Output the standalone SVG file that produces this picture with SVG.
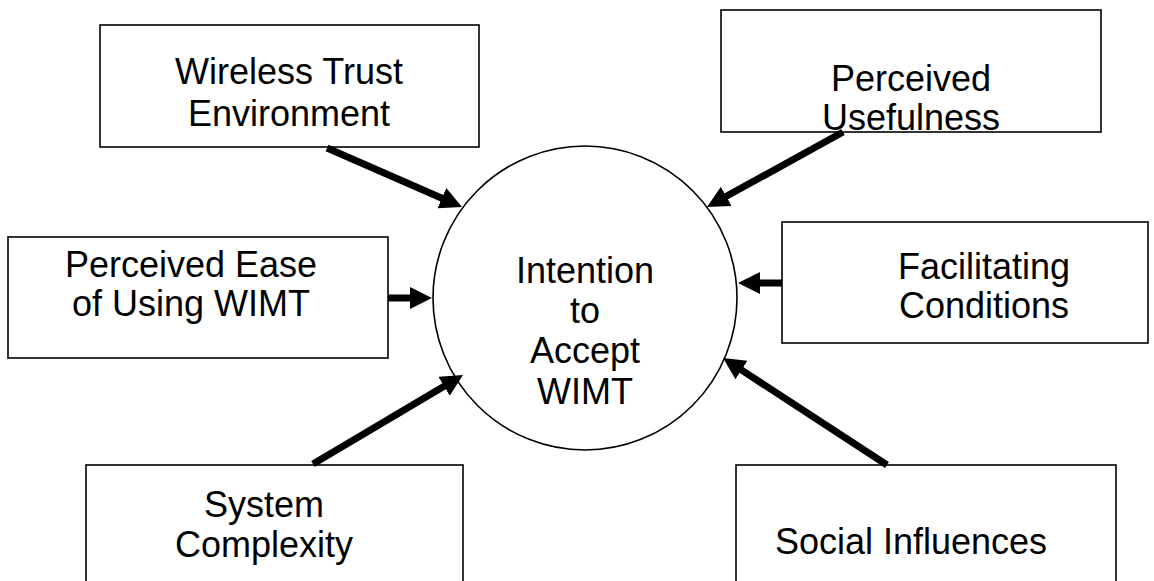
<svg xmlns="http://www.w3.org/2000/svg" width="1154" height="581" viewBox="0 0 1154 581">
<style>
.box{fill:#fff;stroke:#000;stroke-width:1.6}
.circ{fill:#fff;stroke:#000;stroke-width:1.6}
.lbl{font-family:"Liberation Sans",Arial,sans-serif;font-size:36px;fill:#000;text-anchor:middle}
.conn{stroke:#000;stroke-width:7;fill:none;marker-end:url(#ah)}
</style>
<defs>
<marker id="ah" markerUnits="userSpaceOnUse" markerWidth="24" markerHeight="24" refX="2" refY="11" orient="auto">
<path d="M0,0 L22,11 L0,22 Z" fill="#000"/>
</marker>
</defs>
<rect width="1154" height="581" fill="#fff"/>
<g id="node-intention">
<circle class="circ" cx="585" cy="298" r="152"/>
<text class="lbl" x="585" y="283">Intention</text>
<text class="lbl" x="585" y="323">to</text>
<text class="lbl" x="585" y="363">Accept</text>
<text class="lbl" x="585" y="404">WIMT</text>
</g>
<g id="node-wireless">
<rect class="box" x="100" y="25" width="379" height="122"/>
<text class="lbl" x="289" y="84">Wireless Trust</text>
<text class="lbl" x="289" y="126">Environment</text>
</g>
<g id="node-usefulness">
<rect class="box" x="721" y="10" width="380" height="122"/>
<text class="lbl" x="911" y="91">Perceived</text>
<text class="lbl" x="911" y="130">Usefulness</text>
</g>
<g id="node-ease">
<rect class="box" x="8" y="237" width="380" height="121"/>
<text class="lbl" x="191" y="277">Perceived Ease</text>
<text class="lbl" x="191" y="316">of Using WIMT</text>
</g>
<g id="node-facilitating">
<rect class="box" x="782" y="222" width="366" height="121"/>
<text class="lbl" x="984" y="279">Facilitating</text>
<text class="lbl" x="984" y="318">Conditions</text>
</g>
<g id="node-complexity">
<rect class="box" x="86" y="465" width="377" height="140"/>
<text class="lbl" x="264" y="517">System</text>
<text class="lbl" x="264" y="557">Complexity</text>
</g>
<g id="node-social">
<rect class="box" x="736" y="465" width="380" height="140"/>
<text class="lbl" x="911" y="554">Social Influences</text>
</g>
<g id="connectors">
<line class="conn" x1="327" y1="148" x2="443.7" y2="199"/>
<line class="conn" x1="843" y1="132" x2="724.5" y2="197.3"/>
<line class="conn" x1="388" y1="298" x2="412" y2="298"/>
<line class="conn" x1="782" y1="283" x2="758" y2="283"/>
<line class="conn" x1="313" y1="464" x2="445.8" y2="385.2"/>
<line class="conn" x1="887" y1="465" x2="739.8" y2="368.9"/>
</g>
</svg>
